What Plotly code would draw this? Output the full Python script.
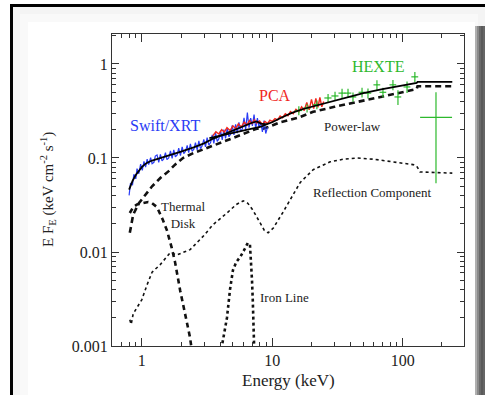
import plotly.graph_objects as go

# ---------------- data ----------------
xrt_e = [0.80, 0.82, 0.85, 0.87, 0.90, 0.92, 0.95, 0.98, 1.01, 1.04, 1.07, 1.10, 1.13, 1.17, 1.20, 1.24,
         1.27, 1.31, 1.35, 1.39, 1.43, 1.47, 1.52, 1.56, 1.61, 1.66, 1.71, 1.76, 1.81, 1.87, 1.92, 1.98,
         2.04, 2.10, 2.16, 2.23, 2.29, 2.36, 2.43, 2.51, 2.58, 2.66, 2.74, 2.82, 2.90, 2.99, 3.08, 3.17,
         3.27, 3.37, 3.47, 3.57, 3.68, 3.79, 3.90, 4.02, 4.14, 4.26, 4.39, 4.52, 4.66, 4.80, 4.94, 5.09,
         5.24, 5.40, 5.56, 5.73, 5.90, 6.08, 6.26, 6.45, 6.64, 6.84, 7.05, 7.26, 7.47, 7.70, 7.93, 8.17,
         8.41, 8.66, 8.92, 9.19]
xrt_f = [0.040, 0.054, 0.052, 0.067, 0.060, 0.077, 0.068, 0.086, 0.074, 0.092, 0.080, 0.097, 0.085, 0.101,
         0.087, 0.090, 0.105, 0.108, 0.090, 0.109, 0.093, 0.097, 0.114, 0.096, 0.100, 0.119, 0.099, 0.122,
         0.103, 0.108, 0.127, 0.106, 0.131, 0.111, 0.117, 0.136, 0.114, 0.141, 0.118, 0.124, 0.146, 0.122,
         0.152, 0.126, 0.134, 0.158, 0.131, 0.165, 0.137, 0.146, 0.176, 0.143, 0.184, 0.150, 0.160, 0.195,
         0.156, 0.200, 0.162, 0.208, 0.168, 0.180, 0.222, 0.176, 0.228, 0.184, 0.240, 0.190, 0.205, 0.268,
         0.200, 0.305, 0.210, 0.265, 0.220, 0.290, 0.205, 0.265, 0.210, 0.240, 0.190, 0.250, 0.182, 0.212]

pca_e = [3.50, 3.70, 3.90, 4.10, 4.30, 4.50, 4.75, 5.00, 5.25, 5.50, 5.80, 6.10, 6.40, 6.70, 7.00, 7.30,
         7.60, 8.00, 8.40, 8.80, 9.20, 9.60, 10.0, 10.5, 11.0, 11.5, 12.0, 12.6, 13.2, 13.8, 14.5, 15.2,
         16.0, 16.8, 17.6, 18.4, 19.2, 20.0, 20.8, 21.6, 22.4, 23.2, 24.0, 24.8]
pca_f = [0.172, 0.190, 0.180, 0.200, 0.188, 0.210, 0.196, 0.220, 0.205, 0.230, 0.214, 0.240, 0.224, 0.250,
         0.232, 0.255, 0.235, 0.248, 0.228, 0.245, 0.232, 0.252, 0.245, 0.262, 0.255, 0.280, 0.268, 0.295,
         0.282, 0.312, 0.296, 0.330, 0.310, 0.350, 0.320, 0.390, 0.325, 0.420, 0.335, 0.430, 0.345, 0.440,
         0.350, 0.400]

hexte_e = [16.0, 18.5, 22.0, 26.8, 30.3, 34.3, 38.1, 41.6, 48.8, 54.2, 63.5, 70.6, 84.2, 92.0, 108.0, 124.0]
hexte_f = [0.32, 0.34, 0.37, 0.435, 0.457, 0.49, 0.49, 0.446, 0.50, 0.49, 0.60, 0.50, 0.60, 0.446, 0.57, 0.73]
hexte_ex = [1.0, 1.2, 1.4, 1.7, 1.9, 2.1, 2.3, 2.5, 2.9, 3.2, 3.8, 4.2, 5.0, 5.5, 6.5, 7.5]
hexte_ey = [0.035, 0.035, 0.04, 0.045, 0.05, 0.055, 0.055, 0.05, 0.06, 0.06, 0.07, 0.06, 0.075, 0.08, 0.08, 0.09]

hexte_last_e = [180.0]
hexte_last_f = [0.27]
hexte_last_ex_plus = [59.0]
hexte_last_ex_minus = [44.0]
hexte_last_ey_plus = [0.23]
hexte_last_ey_minus = [0.216]

model_xrt_e = [0.80, 0.85, 0.90, 0.95, 1.00, 1.05, 1.10, 1.20, 1.30, 1.50, 1.75, 2.0, 2.5, 3.0, 3.5, 4.0,
               5.0, 6.0, 7.0, 7.6, 8.2, 9.0]
model_xrt_f = [0.046, 0.057, 0.066, 0.074, 0.080, 0.085, 0.089, 0.094, 0.097, 0.103, 0.110, 0.117, 0.130, 0.143,
               0.160, 0.173, 0.196, 0.218, 0.237, 0.245, 0.232, 0.228]

model_pca_e = [3.3, 4.0, 5.0, 6.0, 7.0, 7.6, 8.2, 9.0, 10.0, 11.5, 14.0, 17.0, 20.6, 30.0, 40.0, 50.0, 70.0,
               90.0, 110.0, 128.0, 130.0, 240.0]
model_pca_f = [0.163, 0.172, 0.184, 0.195, 0.205, 0.210, 0.215, 0.228, 0.240, 0.265, 0.300, 0.330, 0.355, 0.410,
               0.450, 0.490, 0.540, 0.580, 0.610, 0.630, 0.645, 0.645]

powerlaw_e = [0.81, 0.86, 0.95, 1.06, 1.2, 1.4, 1.6, 1.8, 2.07, 2.5, 3.3, 5.0, 7.6, 8.5, 9.5, 11.5, 16.0, 20.6,
              30.0, 50.0, 80.0, 120.0, 128.0, 130.0, 240.0]
powerlaw_f = [0.016, 0.025, 0.033, 0.040, 0.050, 0.062, 0.072, 0.085, 0.100, 0.113, 0.130, 0.163, 0.205, 0.205,
              0.215, 0.240, 0.270, 0.310, 0.350, 0.410, 0.470, 0.530, 0.540, 0.580, 0.580]

disk_e = [0.81, 0.86, 0.92, 1.0, 1.12, 1.2, 1.31, 1.45, 1.56, 1.7, 1.8, 1.97, 2.1, 2.22, 2.34, 2.45]
disk_f = [0.026, 0.030, 0.032, 0.033, 0.034, 0.033, 0.030, 0.022, 0.017, 0.011, 0.0078, 0.0039, 0.0026,
          0.0019, 0.00125, 0.0008]

refl_e = [0.81, 0.83, 0.86, 0.92, 1.0, 1.1, 1.2, 1.38, 1.65, 1.86, 2.35, 3.0, 3.5, 4.5, 5.3, 6.0, 6.5, 7.1,
          8.1, 8.7, 9.3, 10.2, 12.0, 14.0, 16.4, 20.6, 27.8, 35.0, 44.6, 60.0, 80.0, 100.0, 120.0, 128.0,
          136.0, 240.0]
refl_f = [0.0019, 0.0017, 0.0022, 0.0026, 0.0031, 0.0045, 0.0061, 0.0073, 0.0098, 0.0093, 0.0106, 0.015,
          0.0194, 0.026, 0.032, 0.035, 0.033, 0.028, 0.020, 0.017, 0.016, 0.018, 0.026, 0.037, 0.055, 0.075,
          0.091, 0.097, 0.100, 0.097, 0.091, 0.088, 0.085, 0.082, 0.071, 0.069]

iron_e = [4.0, 4.2, 4.5, 4.75, 5.0, 5.3, 5.7, 6.1, 6.5, 6.75, 6.9, 7.0, 7.1, 7.2, 7.3]
iron_f = [0.0008, 0.00115, 0.002, 0.004, 0.0064, 0.0078, 0.0089, 0.0105, 0.0125, 0.012, 0.008, 0.005, 0.003,
          0.0018, 0.0008]

x_major = [1, 10, 100]
x_major_text = ["1", "10", "100"]
y_major = [0.001, 0.01, 0.1, 1]
y_major_text = ["0.001", "0.01", "0.1", "1"]

# ---------------- figure ----------------
W, H = 485, 395
ML, MR, MT, MB = 112, 21, 34, 49
SERIF = "Liberation Serif"
BLUE = "#2a3cf5"
RED = "#f0281e"
GREEN = "#2db92d"

fig = go.Figure()

fig.add_trace(go.Scatter(x=refl_e, y=refl_f, mode="lines",
                         line=dict(color="#111", width=1.6, dash="dot")))
fig.add_trace(go.Scatter(x=iron_e, y=iron_f, mode="lines",
                         line=dict(color="#111", width=2.6, dash="dot")))
fig.add_trace(go.Scatter(x=disk_e, y=disk_f, mode="lines",
                         line=dict(color="#111", width=2.6, dash="5px,4px")))
fig.add_trace(go.Scatter(x=powerlaw_e, y=powerlaw_f, mode="lines",
                         line=dict(color="#111", width=2.6, dash="6px,4px")))
fig.add_trace(go.Scatter(x=xrt_e, y=xrt_f, mode="lines",
                         line=dict(color=BLUE, width=1.2)))
fig.add_trace(go.Scatter(x=pca_e, y=pca_f, mode="lines",
                         line=dict(color=RED, width=1.4)))
fig.add_trace(go.Scatter(x=hexte_e, y=hexte_f, mode="markers", marker=dict(size=1, color=GREEN),
                         error_x=dict(type="data", array=hexte_ex, color=GREEN, thickness=1.2, width=0),
                         error_y=dict(type="data", array=hexte_ey, color=GREEN, thickness=1.2, width=0)))
fig.add_trace(go.Scatter(x=hexte_last_e, y=hexte_last_f, mode="markers", marker=dict(size=1, color=GREEN),
                         error_x=dict(type="data", symmetric=False, array=hexte_last_ex_plus,
                                      arrayminus=hexte_last_ex_minus, color=GREEN, thickness=1.2, width=0),
                         error_y=dict(type="data", symmetric=False, array=hexte_last_ey_plus,
                                      arrayminus=hexte_last_ey_minus, color=GREEN, thickness=1.2, width=0)))
fig.add_trace(go.Scatter(x=model_xrt_e, y=model_xrt_f, mode="lines",
                         line=dict(color="#000", width=1.8)))
fig.add_trace(go.Scatter(x=model_pca_e, y=model_pca_f, mode="lines",
                         line=dict(color="#000", width=1.8)))


def px(xp):
    return (xp - ML) / (W - ML - MR)


def py(yp):
    return 1 - (yp - MT) / (H - MT - MB)


shapes = []
shapes.append(dict(type="rect", xref="paper", yref="paper", x0=px(12), x1=px(485), y0=py(395), y1=py(6),
                   fillcolor="#f4f4f4", line_width=0, layer="below"))
shapes.append(dict(type="rect", xref="paper", yref="paper", x0=px(20), x1=px(478), y0=py(395), y1=py(14),
                   fillcolor="#f9f9f9", line_width=0, layer="below"))
shapes.append(dict(type="rect", xref="paper", yref="paper", x0=px(28), x1=px(475), y0=py(395), y1=py(22),
                   fillcolor="#ffffff", line_width=0, layer="below"))
grad = [(475, 477, "#b0b0b0"), (477, 479, "#8a8a8a"), (479, 481, "#6a6a6a"), (481, 483, "#5a5a5a"),
        (483, 485, "#666666")]
for a, b, c in grad:
    shapes.append(dict(type="rect", xref="paper", yref="paper", x0=px(a), x1=px(b), y0=py(395), y1=py(26),
                       fillcolor=c, line_width=0, layer="below"))
shapes.append(dict(type="rect", xref="paper", yref="paper", x0=px(10), x1=px(13), y0=py(395), y1=py(4),
                   fillcolor="#000", line_width=0, layer="below"))
shapes.append(dict(type="rect", xref="paper", yref="paper", x0=px(10), x1=px(485), y0=py(7), y1=py(4),
                   fillcolor="#000", line_width=0, layer="below"))
fig.update_layout(shapes=shapes)

x_minor = [0.6, 0.7, 0.8, 0.9, 2, 3, 4, 5, 6, 7, 8, 9, 20, 30, 40, 50, 60, 70, 80, 90, 200]
y_minor = [0.002, 0.003, 0.004, 0.005, 0.006, 0.007, 0.008, 0.009,
           0.02, 0.03, 0.04, 0.05, 0.06, 0.07, 0.08, 0.09,
           0.2, 0.3, 0.4, 0.5, 0.6, 0.7, 0.8, 0.9, 2]

axcol = "#333333"
fig.update_xaxes(type="log", range=[-0.228, 2.47], showline=True, linecolor=axcol, linewidth=1,
                 mirror="ticks", ticks="inside", ticklen=8, tickwidth=1, tickcolor=axcol,
                 tickvals=x_major, ticktext=x_major_text, showgrid=False, zeroline=False,
                 tickfont=dict(family=SERIF, size=16, color="#222"),
                 minor=dict(ticks="inside", ticklen=4, tickwidth=1, tickcolor=axcol, tickvals=x_minor,
                            showgrid=False))
fig.update_yaxes(type="log", range=[-3, 0.319], showline=True, linecolor=axcol, linewidth=1,
                 mirror="ticks", ticks="inside", ticklen=7, tickwidth=1, tickcolor=axcol,
                 tickvals=y_major, ticktext=y_major_text, showgrid=False, zeroline=False,
                 tickfont=dict(family=SERIF, size=16, color="#222"),
                 minor=dict(ticks="inside", ticklen=4, tickwidth=1, tickcolor=axcol, tickvals=y_minor,
                            showgrid=False))

ann = []


def pann(text, xp, yp, size, color="#222", angle=0, align="center"):
    ann.append(dict(text=text, xref="paper", yref="paper", x=px(xp), y=py(yp), showarrow=False,
                    xanchor="center", yanchor="middle", textangle=angle, align=align,
                    font=dict(family=SERIF, size=size, color=color)))


pann("Energy (keV)", 288, 380, 17)
pann("E F<sub>E</sub> (keV cm<sup>-2</sup> s<sup>-1</sup>)", 48, 190, 15, angle=-90)
pann("Swift/XRT", 165, 125, 16, BLUE)
pann("PCA", 275, 96, 16, RED)
pann("HEXTE", 378, 67, 16, GREEN)
pann("Power-law", 352, 126, 13)
pann("Reflection Component", 372, 192, 13)
pann("Thermal<br>Disk", 183, 215, 13)
pann("Iron Line", 284, 297, 13)

fig.update_layout(annotations=ann, width=W, height=H, showlegend=False,
                  margin=dict(l=ML, r=MR, t=MT, b=MB),
                  paper_bgcolor="#ffffff", plot_bgcolor="#ffffff",
                  font=dict(family=SERIF))

fig.write_html("out.html")
